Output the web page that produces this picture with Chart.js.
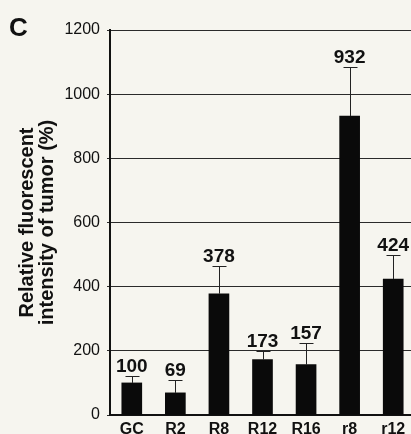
<!DOCTYPE html>
<html>
<head>
<meta charset="utf-8">
<script src="https://cdn.jsdelivr.net/npm/chart.js@4/dist/chart.umd.min.js"></script>
<style>
  html, body { margin: 0; padding: 0; background: #f6f5ef; overflow: hidden; }
  #wrap { width: 415px; height: 434px; }
</style>
</head>
<body>
<div id="wrap"><canvas id="c" width="415" height="434"></canvas></div>
<script>
const categories = ['GC', 'R2', 'R8', 'R12', 'R16', 'r8', 'r12'];
const values = [100, 69, 378, 173, 157, 932, 424];
const errors = [22, 40, 86, 26, 66, 154, 75];
const valueLabels = ['100', '69', '378', '173', '157', '932', '424'];
const yTitleLines = ['Relative fluorescent', 'intensity of tumor (%)'];
const yTickStep = 200;
const panelLetter = 'C';

const FONT = '"Liberation Sans", Arial, Helvetica, sans-serif';
const INK = '#111111';

const extras = {
  id: 'extras',
  afterDatasetsDraw(chart) {
    const ctx = chart.ctx;
    const meta = chart.getDatasetMeta(0);
    const y = chart.scales.y;
    ctx.save();
    ctx.strokeStyle = '#222';
    ctx.lineWidth = 1;
    ctx.fillStyle = INK;
    ctx.font = 'bold 19px ' + FONT;
    ctx.textAlign = 'center';
    ctx.textBaseline = 'alphabetic';
    meta.data.forEach((bar, i) => {
      const x = Math.round(bar.x) + 0.5;
      const yTop = y.getPixelForValue(values[i]);
      const yCap = Math.round(y.getPixelForValue(values[i] + errors[i])) + 0.5;
      ctx.beginPath();
      ctx.moveTo(x, yTop);
      ctx.lineTo(x, yCap);
      ctx.moveTo(x - 7, yCap);
      ctx.lineTo(x + 7, yCap);
      ctx.stroke();
      ctx.fillText(valueLabels[i], bar.x, yCap - 5);
    });
    ctx.restore();
    // panel letter
    ctx.save();
    ctx.fillStyle = INK;
    ctx.font = 'bold 26px ' + FONT;
    ctx.textAlign = 'left';
    ctx.textBaseline = 'alphabetic';
    ctx.fillText(panelLetter, 9, 36);
    ctx.restore();
  }
};

new Chart(document.getElementById('c'), {
  type: 'bar',
  data: {
    labels: categories,
    datasets: [{
      data: values,
      backgroundColor: '#0a0a0a',
      borderWidth: 0,
      barThickness: 20
    }]
  },
  options: {
    responsive: false,
    animation: false,
    devicePixelRatio: 1,
    layout: { padding: { top: 30, left: 0, right: 0, bottom: 0 } },
    plugins: { legend: { display: false }, tooltip: { enabled: false } },
    scales: {
      x: {
        grid: { display: false, drawTicks: false, tickLength: 0 },
        border: { display: true, color: INK, width: 2 },
        ticks: { color: INK, font: { family: FONT, size: 16, weight: 'bold' }, padding: 5, maxRotation: 0 },
        afterFit(scale) { scale.height = 19; }
      },
      y: {
        min: 0, max: 1200,
        grid: { color: '#2a2a2a', lineWidth: 1, tickLength: 3, drawTicks: true },
        border: { display: true, color: INK, width: 2 },
        ticks: {
          stepSize: yTickStep, color: INK, font: { family: FONT, size: 16 }, padding: 7,
          callback: (v) => String(v)
        },
        title: {
          display: true,
          text: yTitleLines,
          color: INK,
          font: { family: FONT, size: 20, weight: 'bold', lineHeight: 1 },
          padding: { top: 17.5, bottom: 0 }
        },
        afterFit(scale) { scale.width = 110; }
      }
    }
  },
  plugins: [extras]
});
</script>
</body>
</html>
